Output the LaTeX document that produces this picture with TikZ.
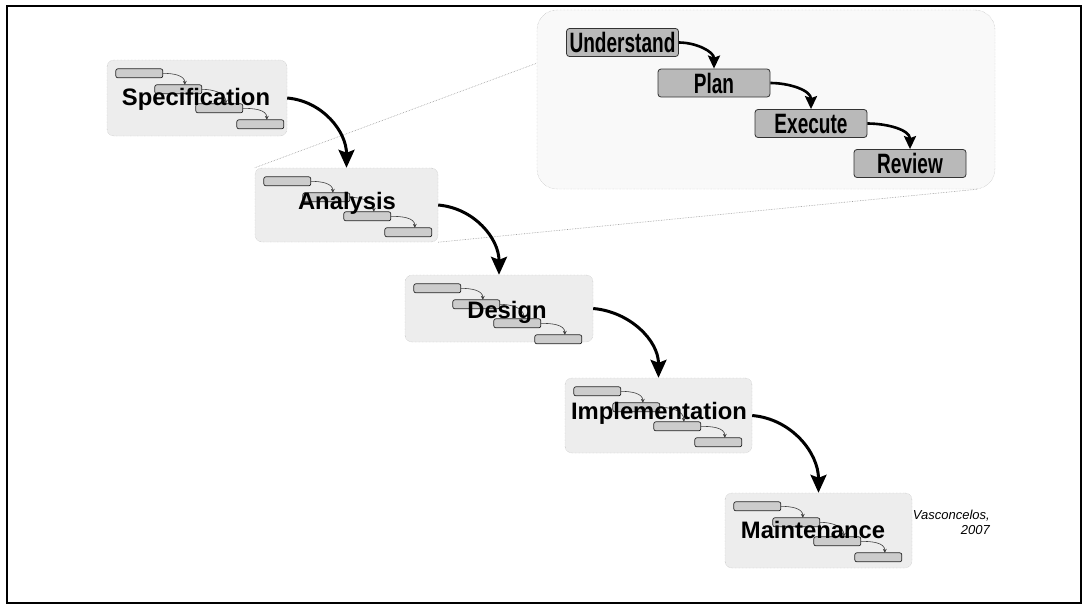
\documentclass[tikz,border=0pt]{standalone}
\usepackage{fontspec}
\setmainfont{Liberation Sans}
\newfontfamily\condsans[FakeStretch=0.68]{Liberation Sans}
\usetikzlibrary{arrows.meta}

\tikzset{
  stagebox/.style={draw=gray!65, densely dotted, fill=gray!14, rounded corners=7pt, inner sep=0pt},
  stagelabel/.style={font=\bfseries\fontsize{23.8pt}{26pt}\selectfont, inner sep=0pt, text=black},
  minibar/.style={draw=black!85, fill=gray!40, line width=0.7pt, rounded corners=2pt},
  minilink/.style={draw=black!75, line width=0.6pt, -{Stealth[length=4pt,width=4pt]}},
  zoomframe/.style={draw=gray!70, densely dotted, fill=gray!5, rounded corners=20pt, inner sep=0pt},
  zoomline/.style={draw=gray!80, line width=0.6pt, densely dotted},
  stepnode/.style={draw=gray!40!black, fill=gray!55, rounded corners=3pt, line width=0.8pt,
    minimum width=112pt, minimum height=28pt, inner sep=0pt,
    font=\condsans\bfseries\fontsize{28pt}{28pt}\selectfont},
  flow/.style={line width=3pt, -{Stealth[length=18pt,width=16pt,inset=3pt]}},
  stepflow/.style={line width=2.6pt, -{Stealth[length=13pt,width=12pt,inset=2pt]}},
  credit/.style={font=\itshape\fontsize{13pt}{15pt}\selectfont, align=right, inner sep=0pt},
  miniflow/.pic={
    \foreach \bx/\by in {9/9,48/25,89/44,130/60}
      \draw[minibar] (\bx,\by) rectangle ++(47,9);
    \draw[minilink] (56,13.5) to[out=0,in=90] (78,25);
    \draw[minilink] (95,29.5) to[out=0,in=90] (119,44);
    \draw[minilink] (136,48.5) to[out=0,in=90] (160,60);
  }
}

\begin{document}
\begin{tikzpicture}[x=1pt,y=-1pt]
\useasboundingbox (0,0) rectangle (1092,614);

% outer frame
\draw[line width=1.8pt] (7,6) rectangle (1081,603);

% detail of the analysis phase
\node[zoomframe, minimum width=458pt, minimum height=179pt] (zoombox) at (766,99.5) {};

% stage boxes
\node[stagebox, minimum width=180pt, minimum height=76pt] (spec) at (197,98) {};
\node[stagebox, minimum width=183pt, minimum height=74pt] (ana) at (346.5,205) {};
\node[stagebox, minimum width=188pt, minimum height=67pt] (des) at (499,308.5) {};
\node[stagebox, minimum width=187pt, minimum height=75pt] (imp) at (658.5,415.5) {};
\node[stagebox, minimum width=187pt, minimum height=75pt] (mnt) at (818.5,530.5) {};

% lines joining the analysis box to its detail
\draw[zoomline] (ana.north west) -- (zoombox.171);
\draw[zoomline] (ana.south east) -- (zoombox.-23);

% small waterfall icons inside each stage
\pic at (spec.north west) {miniflow};
\pic at (ana.north west) {miniflow};
\pic at (des.north west) {miniflow};
\pic at (imp.north west) {miniflow};
\pic at (mnt.north west) {miniflow};

% stage labels
\node[stagelabel] (specl) at (196,99) {Specification};
\node[stagelabel] (anal) at (347,203) {Analysis};
\node[stagelabel] (desl) at (507,312) {Design};
\node[stagelabel] (impl) at (659,413) {Implementation};
\node[stagelabel] (mntl) at (813,530) {Maintenance};

% main flow
\draw[flow] (spec.east) to[out=-5,in=90] (ana.north);
\draw[flow] (ana.east) to[out=-5,in=90] (des.north);
\draw[flow] (des.east) to[out=-5,in=90] (imp.north);
\draw[flow] (imp.east) to[out=-5,in=90] (mnt.north);

% steps of the analysis phase
\node[stepnode] (und) at (622.5,42.5) {Understand};
\node[stepnode] (plan) at (714,83) {Plan};
\node[stepnode] (exe) at (811,123.5) {Execute};
\node[stepnode] (rev) at (910,163.5) {Review};

\draw[stepflow] (und.east) to[out=0,in=90] (plan.north);
\draw[stepflow] (plan.east) to[out=0,in=90] (exe.north);
\draw[stepflow] (exe.east) to[out=0,in=90] (rev.north);

% citation
\node[credit, anchor=north east] (cite) at (990,510) {Vasconcelos,\\2007};
\end{tikzpicture}
\end{document}
